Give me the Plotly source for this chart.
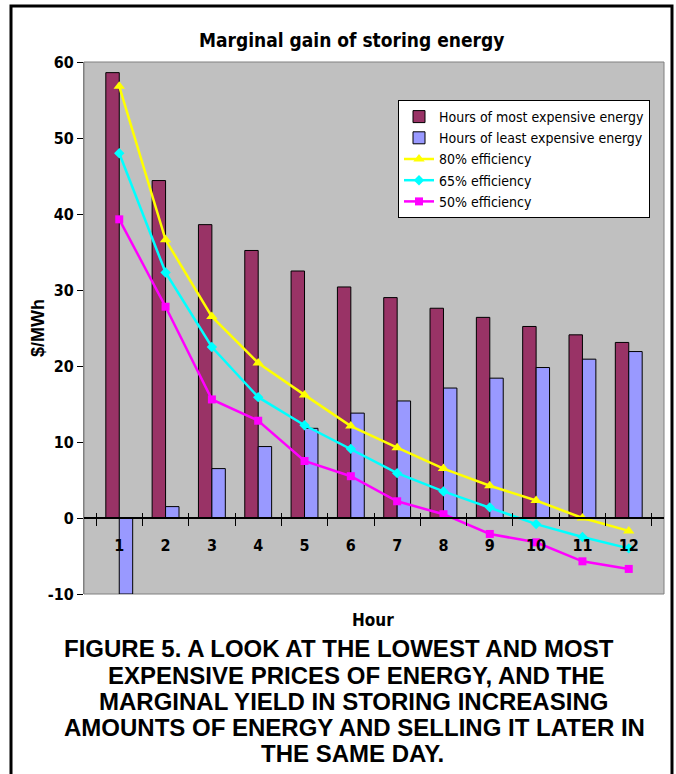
import plotly.graph_objects as go

# Hour index on the x axis
hours = ["1", "2", "3", "4", "5", "6", "7", "8", "9", "10", "11", "12"]

# Prices ($/MWh)
most_expensive = [58.6, 44.4, 38.6, 35.2, 32.5, 30.4, 29.0, 27.6, 26.4, 25.2, 24.1, 23.1]
least_expensive = [-10.0, 1.5, 6.5, 9.4, 11.8, 13.8, 15.4, 17.1, 18.4, 19.8, 20.9, 21.9]

# Marginal gain of storage at three round-trip efficiencies ($/MWh)
eff_80 = [56.8, 36.6, 26.5, 20.4, 16.2, 12.1, 9.25, 6.5, 4.25, 2.3, 0.0, -1.7]
eff_65 = [48.0, 32.3, 22.5, 15.9, 12.2, 9.1, 5.9, 3.5, 1.4, -0.8, -2.5, -4.0]
eff_50 = [39.3, 27.8, 15.6, 12.8, 7.5, 5.5, 2.2, 0.5, -2.1, -3.2, -5.7, -6.7]

y_ticks = [-10, 0, 10, 20, 30, 40, 50, 60]

caption_lines = [
    "FIGURE 5. A LOOK AT THE LOWEST AND MOST ",
    "EXPENSIVE PRICES OF ENERGY, AND THE",
    "MARGINAL YIELD IN STORING INCREASING",
    "AMOUNTS OF ENERGY AND SELLING IT LATER IN",
    "THE SAME DAY.",
]

NARROW = "DejaVu Sans Condensed, Liberation Sans Narrow, Arial Narrow, sans-serif"
WIDE = "Liberation Sans, Arial, sans-serif"

W, H = 676, 774
L, R, T, B = 84, 12, 62, 180
PW, PH = W - L - R, H - T - B


def px(x):
    return (x - L) / PW


def py(y):
    return (H - B - y) / PH


fig = go.Figure()

fig.add_trace(go.Bar(
    x=hours, y=most_expensive, name="Hours of most expensive energy",
    marker=dict(color="#993366", line=dict(color="#000000", width=1)),
))
fig.add_trace(go.Bar(
    x=hours, y=least_expensive, name="Hours of least expensive energy",
    marker=dict(color="#9999FF", line=dict(color="#000000", width=1)),
))
fig.add_trace(go.Scatter(
    x=hours, y=eff_80, name="80% efficiency", mode="lines+markers",
    line=dict(color="#FFFF00", width=2.5),
    marker=dict(symbol="triangle-up", size=10, color="#FFFF00"),
))
fig.add_trace(go.Scatter(
    x=hours, y=eff_65, name="65% efficiency", mode="lines+markers",
    line=dict(color="#00FFFF", width=2.5),
    marker=dict(symbol="diamond", size=8, color="#00FFFF"),
))
fig.add_trace(go.Scatter(
    x=hours, y=eff_50, name="50% efficiency", mode="lines+markers",
    line=dict(color="#FF00FF", width=2.5),
    marker=dict(symbol="square", size=8, color="#FF00FF"),
))
# empty carrier for the overlay axis that draws the upper half of the cross ticks
fig.add_trace(go.Scatter(
    x=hours, y=[None] * len(hours), xaxis="x2", mode="lines",
    showlegend=False, hoverinfo="skip",
))

annotations = [
    dict(text="<b>Marginal gain of storing energy</b>", x=px(351), y=py(40),
         font=dict(family=NARROW, size=19, color="#000000")),
    dict(text="<b>$/MWh</b>", x=px(38), y=py(328), textangle=-90,
         font=dict(family=WIDE, size=18, color="#000000")),
    dict(text="<b>Hour</b>", x=px(373), y=py(620),
         font=dict(family=NARROW, size=17, color="#000000")),
]

caption_centers = [342, 356, 353, 354, 352]
caption_y = [648, 675, 701, 727, 753]
for line, cx, cy in zip(caption_lines, caption_centers, caption_y):
    annotations.append(dict(
        text="<b>" + line + "</b>", x=px(cx), y=py(cy),
        font=dict(family=WIDE, size=24, color="#000000"),
    ))

for a in annotations:
    a.update(xref="paper", yref="paper", showarrow=False,
             xanchor="center", yanchor="middle")

shapes = [
    # plot area frame
    dict(type="rect", xref="paper", yref="paper", x0=0, x1=1, y0=0, y1=1,
         line=dict(color="#808080", width=1), layer="below"),
    # outer figure frame
    dict(type="rect", xref="paper", yref="paper",
         x0=px(11), x1=px(672), y0=py(790), y1=py(6),
         line=dict(color="#000000", width=3)),
]

fig.update_layout(
    width=W, height=H,
    margin=dict(l=L, r=R, t=T, b=B),
    paper_bgcolor="#FFFFFF",
    plot_bgcolor="#C0C0C0",
    barmode="group",
    bargap=0.42,
    bargroupgap=0.0,
    showlegend=True,
    legend=dict(
        x=px(398), y=py(100), xanchor="left", yanchor="top",
        bgcolor="#FFFFFF", bordercolor="#000000", borderwidth=1,
        font=dict(family=NARROW, size=14, color="#000000"),
        tracegroupgap=0, itemwidth=30,
    ),
    xaxis=dict(
        type="category",
        anchor="free", position=10 / 70,
        showline=True, linecolor="#000000", linewidth=1.5,
        ticks="outside", ticklen=7, tickcolor="#000000", tickson="boundaries",
        ticklabelstandoff=13,
        tickvals=hours, ticktext=["<b>" + h + "</b>" for h in hours],
        tickfont=dict(family=NARROW, size=16, color="#000000"),
        showgrid=False, zeroline=False,
    ),
    xaxis2=dict(
        type="category", overlaying="x", matches="x",
        anchor="free", position=10 / 70,
        showline=False, ticks="inside", ticklen=5, tickcolor="#000000",
        tickson="boundaries", showticklabels=False,
        showgrid=False, zeroline=False,
    ),
    yaxis=dict(
        range=[-10, 60], tickvals=y_ticks,
        ticktext=["<b>" + str(v) + "</b>" for v in y_ticks],
        showline=True, linecolor="#808080", linewidth=1,
        ticks="outside", ticklen=6, tickcolor="#000000",
        tickfont=dict(family=NARROW, size=16, color="#000000"),
        showgrid=False, zeroline=False,
    ),
    annotations=annotations,
    shapes=shapes,
)

fig.write_html("out.html")
